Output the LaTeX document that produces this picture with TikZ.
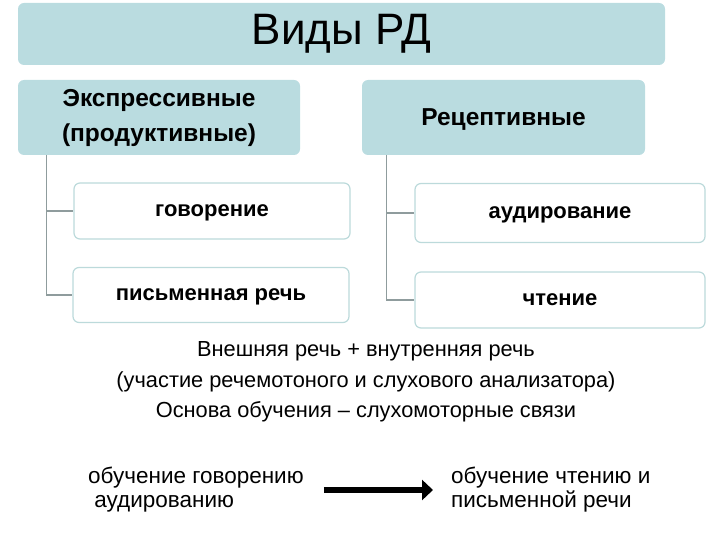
\documentclass[tikz,border=0pt]{standalone}
\usepackage{fontspec}
\setmainfont{Liberation Sans}
\usepackage{tikz}
\usetikzlibrary{arrows.meta}
\definecolor{headfill}{HTML}{BADCE0}
\definecolor{subline}{HTML}{BCDADB}
\definecolor{connline}{HTML}{8F9C9D}
\tikzset{
  headbox/.style={draw=none, fill=headfill, rounded corners=6pt, align=center, inner sep=0pt},
  subbox/.style={draw=subline, line width=1.2pt, fill=white, rounded corners=6pt, inner sep=0pt,
    minimum width=276pt, text depth=0pt, font=\fontsize{22}{24}\selectfont\bfseries},
  conn/.style={draw=connline, line width=1.3pt},
  plaintext/.style={align=center, inner sep=0pt, font=\fontsize{21.8}{30.5}\selectfont}
}

\begin{document}
\begin{tikzpicture}[x=1pt, y=-1pt]
            \useasboundingbox (0,0) rectangle (720,540);
            
            \node[headbox, minimum width=647pt, minimum height=62pt, font=\fontsize{44}{46}\selectfont] (vidy) at (341.5,34) {Виды РД};
            
            \node[headbox, minimum width=282pt, minimum height=75pt, font=\fontsize{24.5}{35}\selectfont\bfseries] (ekspr) at (159,117.5) {Экспрессивные\\(продуктивные)};
            \node[headbox, minimum width=283pt, minimum height=75pt, text depth=0pt, font=\fontsize{24.5}{26}\selectfont\bfseries] (recep) at (503.5,117.5) {Рецептивные};
            
            \node[subbox, minimum height=56pt] (govor) at (212,211) {говорение};
            \node[subbox, minimum height=55pt] (pismo) at (211,295) {письменная речь};
            \node[subbox, minimum width=290pt, minimum height=59pt] (audir) at (560,213) {аудирование};
            \node[subbox, minimum width=290pt, minimum height=56pt] (chten) at (560,300) {чтение};
            
            \draw[conn] ([xshift=29pt]ekspr.south west) |- (govor.west);
            \draw[conn] ([xshift=29pt]ekspr.south west) |- (pismo.west);
            \draw[conn] ([xshift=25pt]recep.south west) |- (audir.west);
            \draw[conn] ([xshift=25pt]recep.south west) |- (chten.west);
            
            \node[plaintext] (vnesh) at (366,382) {Внешняя речь + внутренняя речь\\(участие речемотоного и слухового анализатора)\\Основа обучения -- слухомоторные связи};
            
            \node[plaintext, align=left, anchor=west, font=\fontsize{22.5}{24}\selectfont] (obgov) at (88,490) {обучение говорению\\ \ аудированию};
            \node[plaintext, align=left, anchor=west, font=\fontsize{22.5}{24}\selectfont] (obcht) at (451,490) {обучение чтению и\\письменной речи};
            
            \draw[line width=5.5pt, -{Triangle[length=11pt, width=20pt]}] ([xshift=20pt]obgov.east) -- ([xshift=-18pt]obcht.west);
        \end{tikzpicture}
\end{document}
